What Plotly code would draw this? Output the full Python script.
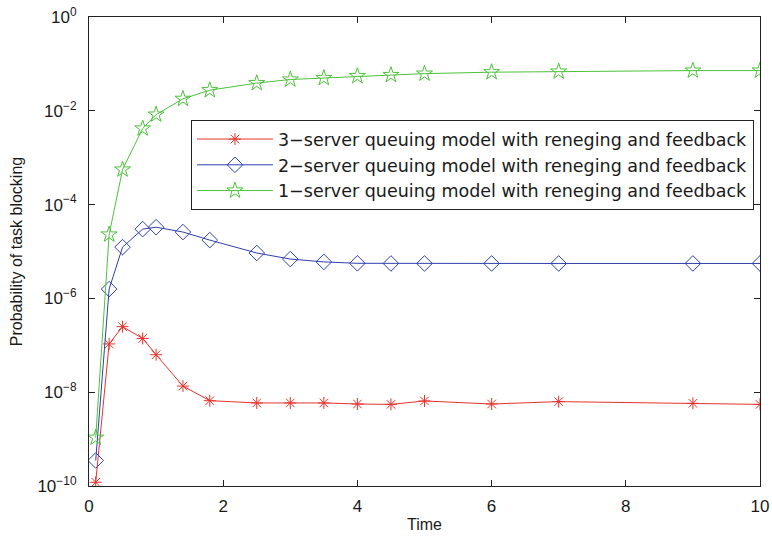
import plotly.graph_objects as go

time = [0.1, 0.3, 0.5, 0.8, 1.0, 1.4, 1.8, 2.5, 3.0, 3.5, 4.0, 4.5, 5.0, 6.0, 7.0, 9.0, 10.0]
p_3server = [1.2e-10, 1.07e-7, 2.5e-7, 1.4e-7, 6.3e-8, 1.35e-8, 6.6e-9, 5.9e-9, 5.9e-9, 5.9e-9,
             5.6e-9, 5.5e-9, 6.5e-9, 5.6e-9, 6.3e-9, 5.8e-9, 5.5e-9]
p_2server = [3.5e-10, 1.58e-6, 1.24e-5, 3.0e-5, 3.3e-5, 2.6e-5, 1.75e-5, 9.3e-6, 6.9e-6, 6.0e-6,
             5.6e-6, 5.56e-6, 5.56e-6, 5.56e-6, 5.56e-6, 5.56e-6, 5.56e-6]
p_1server = [1.07e-9, 2.3e-5, 5.6e-4, 4.2e-3, 8.3e-3, 0.018, 0.0275, 0.039, 0.0465, 0.050,
             0.055, 0.058, 0.062, 0.0666, 0.0687, 0.072, 0.072]

names = ["3\u2212server queuing model with reneging and feedback",
         "2\u2212server queuing model with reneging and feedback",
         "1\u2212server queuing model with reneging and feedback"]

x_ticks = [0, 2, 4, 6, 8, 10]
y_exps = [0, -2, -4, -6, -8, -10]

fig = go.Figure()
specs = [("#e8322c", "asterisk-open", 10),
         ("#2f3fae", "diamond-open", 12),
         ("#4cc23a", "star-open", 12)]
for vals, name, (col, sym, sz) in zip([p_3server, p_2server, p_1server], names, specs):
    fig.add_trace(go.Scatter(
        x=time, y=vals, mode="lines+markers", name=name,
        line=dict(color=col, width=1),
        marker=dict(symbol=sym, size=sz, color=col, line=dict(color=col, width=1)),
    ))

fig.update_layout(
    width=772, height=536,
    margin=dict(l=89, r=12, t=17, b=50),
    paper_bgcolor="white", plot_bgcolor="white",
    font=dict(family="Liberation Sans, Arial, sans-serif", size=16, color="#1a1a1a"),
    legend=dict(x=0.991, xanchor="right", y=0.78, yanchor="top",
                bgcolor="white", bordercolor="#222", borderwidth=1,
                font=dict(family="DejaVu Sans, sans-serif", size=17.5),
                itemwidth=76, tracegroupgap=0),
    showlegend=True,
)
fig.update_xaxes(
    range=[0, 10], tickvals=x_ticks, ticktext=[str(v) for v in x_ticks],
    ticks="inside", ticklen=6, tickcolor="#222", mirror="ticks",
    showline=True, linecolor="#222", linewidth=1.2, showgrid=False, zeroline=False,
    automargin=False, ticklabelstandoff=4,
    title=dict(text="Time", standoff=4, font=dict(size=16)),
    tickfont=dict(size=17),
)
fig.update_yaxes(
    type="log", range=[-10, 0],
    tickvals=[10.0 ** e for e in y_exps],
    ticktext=["10<sup>%s</sup>" % (str(e).replace("-", "\u2212")) for e in y_exps],
    ticks="inside", ticklen=6, tickcolor="#222", mirror="ticks",
    showline=True, linecolor="#222", linewidth=1.2, showgrid=False, zeroline=False,
    automargin=False, ticklabelstandoff=8,
    title=dict(text="Probability of task blocking", standoff=10, font=dict(size=16)),
    tickfont=dict(size=17),
)

fig.write_html("out.html")
